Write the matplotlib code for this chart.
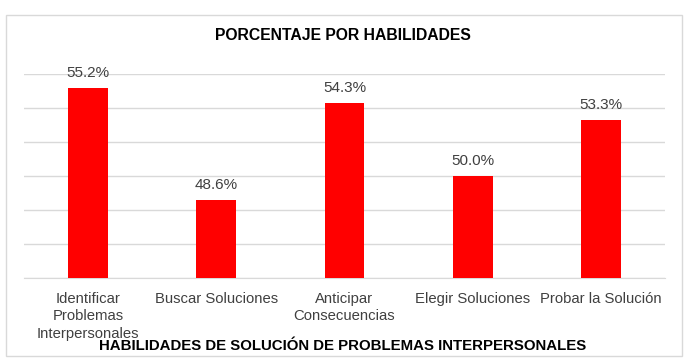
import matplotlib.pyplot as plt
from matplotlib.patches import Rectangle

categories = ["Identificar\nProblemas\nInterpersonales", "Buscar Soluciones",
              "Anticipar\nConsecuencias", "Elegir Soluciones", "Probar la Solución"]
values = [55.2, 48.6, 54.3, 50.0, 53.3]

plt.rcParams["font.family"] = ["Liberation Sans", "DejaVu Sans"]

fig = plt.figure(figsize=(6.86, 3.61), dpi=100)
fig.patches.append(Rectangle((6 / 686, 5 / 361), 676 / 686, 341 / 361,
                             transform=fig.transFigure, fill=False,
                             edgecolor="#d9d9d9", linewidth=1))
ax = fig.add_axes([24 / 686, 1 - 278 / 361, 641 / 686, 204 / 361])

x = range(len(categories))
bars = ax.bar(x, values, width=0.31, color="#ff0000", zorder=3)
for b, v in zip(bars, values):
    ax.text(b.get_x() + b.get_width() / 2, v + 0.45, f"{v:.1f}%",
            ha="center", va="bottom", fontsize=11, color="#404040")

ax.set_ylim(44, 56)
ax.set_xlim(-0.5, len(categories) - 0.5)
ax.set_yticks(range(44, 57, 2))
ax.set_yticklabels([])
ax.tick_params(axis="y", length=0)
ax.tick_params(axis="x", length=0, pad=10, labelsize=10.7, labelcolor="#404040")
ax.set_xticks(list(x))
ax.set_xticklabels(categories, linespacing=1.32)
ax.grid(axis="y", color="#d9d9d9", linewidth=1, zorder=0)
for s in ["top", "right", "left"]:
    ax.spines[s].set_visible(False)
ax.spines["bottom"].set_color("#d9d9d9")

fig.text(0.5, 1 - 35 / 361, "PORCENTAJE POR HABILIDADES", ha="center", va="center",
         fontsize=11.3, fontweight="bold", color="#000000")
fig.text(0.5, 1 - 346 / 361, "HABILIDADES DE SOLUCIÓN DE PROBLEMAS INTERPERSONALES",
         ha="center", va="center", fontsize=10.8, fontweight="bold", color="#000000")

fig.savefig("out.png", dpi=100)
